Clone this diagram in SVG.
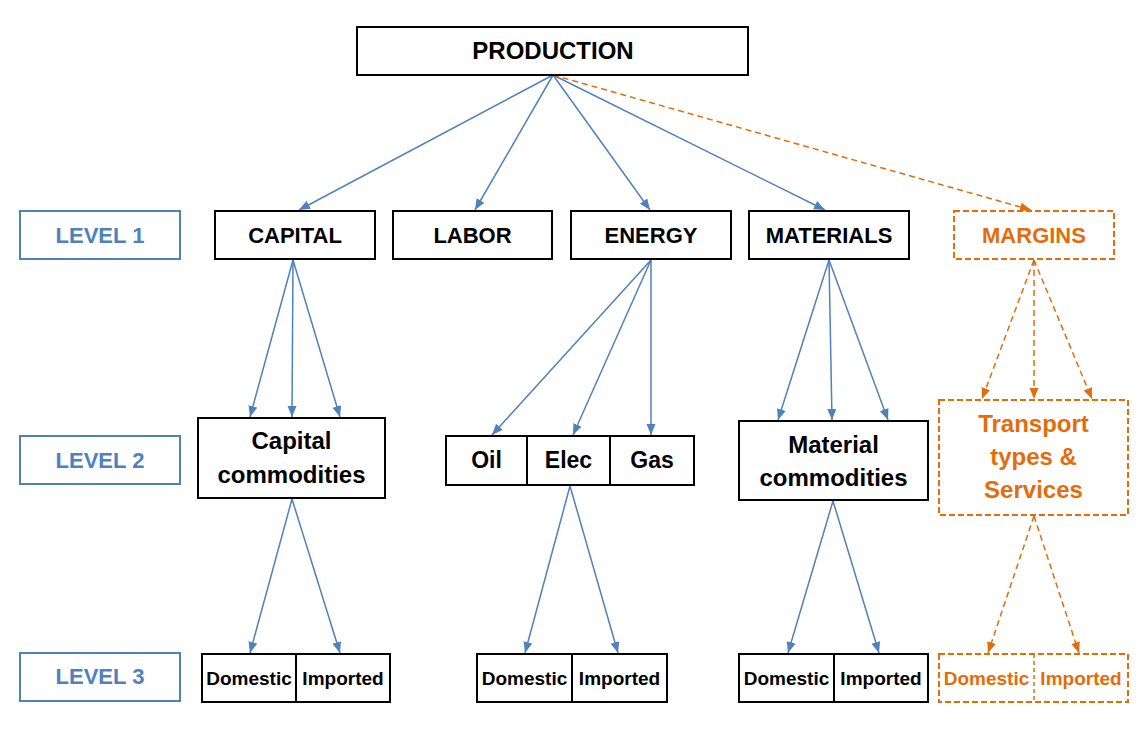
<svg xmlns="http://www.w3.org/2000/svg" width="1146" height="738" viewBox="0 0 1146 738">
<style>
  text { font-family: "Liberation Sans", Arial, sans-serif; font-weight: bold; text-anchor: middle; }
  .box { fill: #ffffff; stroke: #000000; stroke-width: 2; }
  .obox { fill: #ffffff; stroke: #E46C0A; stroke-width: 2; stroke-dasharray: 6 3; }
  .lvl { fill: #ffffff; stroke: #4F81BD; stroke-width: 2; }
  .div { stroke: #000000; stroke-width: 2; }
  .odiv { stroke: #E46C0A; stroke-width: 1.5; stroke-dasharray: 4 3; }
  .t { fill: #000000; }
  .ot { fill: #E46C0A; }
  .lt { fill: #4F81BD; font-size: 22px; }
  .blue { stroke: #4F81BD; stroke-width: 1.5; fill: none; marker-end: url(#ab); }
  .orange { stroke: #E46C0A; stroke-width: 1.5; fill: none; stroke-dasharray: 6 4; marker-end: url(#ao); }
</style>
<defs>
  <marker id="ab" markerUnits="userSpaceOnUse" markerWidth="12" markerHeight="10" refX="11" refY="4.5" orient="auto">
    <path d="M0,0 L11,4.5 L0,9 z" fill="#4F81BD"/>
  </marker>
  <marker id="ao" markerUnits="userSpaceOnUse" markerWidth="12" markerHeight="10" refX="11" refY="4.5" orient="auto">
    <path d="M0,0 L11,4.5 L0,9 z" fill="#E46C0A"/>
  </marker>
</defs>
<rect width="1146" height="738" fill="#ffffff"/>

<g id="connectors">
  <line class="blue" x1="553" y1="75" x2="299" y2="210"/>
  <line class="blue" x1="553" y1="75" x2="475" y2="210"/>
  <line class="blue" x1="553" y1="75" x2="650" y2="210"/>
  <line class="blue" x1="553" y1="75" x2="825" y2="210"/>
  <line class="orange" x1="553" y1="75" x2="1031" y2="210"/>

  <line class="blue" x1="293" y1="260" x2="250" y2="417"/>
  <line class="blue" x1="293" y1="260" x2="292" y2="417"/>
  <line class="blue" x1="293" y1="260" x2="340" y2="417"/>

  <line class="blue" x1="292" y1="499" x2="250" y2="653"/>
  <line class="blue" x1="292" y1="499" x2="340" y2="653"/>

  <line class="blue" x1="651" y1="260" x2="492" y2="435"/>
  <line class="blue" x1="651" y1="260" x2="573" y2="435"/>
  <line class="blue" x1="651" y1="260" x2="651" y2="435"/>

  <line class="blue" x1="570" y1="486" x2="525" y2="653"/>
  <line class="blue" x1="570" y1="486" x2="618" y2="653"/>

  <line class="blue" x1="829" y1="260" x2="778" y2="420"/>
  <line class="blue" x1="829" y1="260" x2="832" y2="420"/>
  <line class="blue" x1="829" y1="260" x2="888" y2="420"/>

  <line class="blue" x1="833" y1="501" x2="788" y2="653"/>
  <line class="blue" x1="833" y1="501" x2="879" y2="653"/>

  <line class="orange" x1="1034" y1="260" x2="982" y2="399"/>
  <line class="orange" x1="1034" y1="260" x2="1034" y2="399"/>
  <line class="orange" x1="1034" y1="260" x2="1092" y2="399"/>

  <line class="orange" x1="1034" y1="516" x2="988" y2="653"/>
  <line class="orange" x1="1034" y1="516" x2="1079" y2="653"/>
</g>

<g id="production">
  <rect class="box" x="357" y="27" width="391" height="48"/>
  <text class="t" x="553" y="59" font-size="24">PRODUCTION</text>
</g>

<g id="level1">
  <rect class="lvl" x="20" y="211" width="160" height="48"/>
  <text class="lt" x="100" y="243">LEVEL 1</text>
</g>
<g id="level2">
  <rect class="lvl" x="20" y="436" width="160" height="48"/>
  <text class="lt" x="100" y="468">LEVEL 2</text>
</g>
<g id="level3">
  <rect class="lvl" x="20" y="653" width="160" height="48"/>
  <text class="lt" x="100" y="684">LEVEL 3</text>
</g>

<g id="capital">
  <rect class="box" x="215" y="211" width="160" height="48"/>
  <text class="t" x="295" y="243" font-size="22">CAPITAL</text>
</g>
<g id="labor">
  <rect class="box" x="393" y="211" width="159" height="48"/>
  <text class="t" x="472.5" y="243" font-size="22">LABOR</text>
</g>
<g id="energy">
  <rect class="box" x="571" y="211" width="160" height="48"/>
  <text class="t" x="651" y="243" font-size="22">ENERGY</text>
</g>
<g id="materials">
  <rect class="box" x="749" y="211" width="160" height="48"/>
  <text class="t" x="829" y="243" font-size="22">MATERIALS</text>
</g>
<g id="margins">
  <rect class="obox" x="954" y="211" width="160" height="48"/>
  <text class="ot" x="1034" y="243" font-size="22">MARGINS</text>
</g>

<g id="capital-commodities">
  <rect class="box" x="198" y="418" width="187" height="80"/>
  <text class="t" x="291.5" y="449" font-size="24">Capital</text>
  <text class="t" x="291.5" y="483" font-size="24">commodities</text>
</g>
<g id="energy-types">
  <rect class="box" x="446" y="436" width="248" height="49"/>
  <line class="div" x1="527" y1="436" x2="527" y2="485"/>
  <line class="div" x1="610" y1="436" x2="610" y2="485"/>
  <text class="t" x="486.5" y="468" font-size="23">Oil</text>
  <text class="t" x="568.5" y="468" font-size="23">Elec</text>
  <text class="t" x="652" y="468" font-size="23">Gas</text>
</g>
<g id="material-commodities">
  <rect class="box" x="739" y="421" width="189" height="79"/>
  <text class="t" x="833.5" y="453" font-size="24">Material</text>
  <text class="t" x="833.5" y="486" font-size="24">commodities</text>
</g>
<g id="transport">
  <rect class="obox" x="939" y="400" width="189" height="115"/>
  <text class="ot" x="1033.5" y="432" font-size="24">Transport</text>
  <text class="ot" x="1033.5" y="465" font-size="24">types &amp;</text>
  <text class="ot" x="1033.5" y="498" font-size="24">Services</text>
</g>

<g id="capital-origin">
  <rect class="box" x="202" y="654" width="188" height="48"/>
  <line class="div" x1="296" y1="654" x2="296" y2="702"/>
  <text class="t" x="249" y="685" font-size="19">Domestic</text>
  <text class="t" x="343" y="685" font-size="19">Imported</text>
</g>
<g id="energy-origin">
  <rect class="box" x="477" y="654" width="190" height="48"/>
  <line class="div" x1="572" y1="654" x2="572" y2="702"/>
  <text class="t" x="524.5" y="685" font-size="19">Domestic</text>
  <text class="t" x="619.5" y="685" font-size="19">Imported</text>
</g>
<g id="material-origin">
  <rect class="box" x="739" y="654" width="189" height="48"/>
  <line class="div" x1="834" y1="654" x2="834" y2="702"/>
  <text class="t" x="786.5" y="685" font-size="19">Domestic</text>
  <text class="t" x="881" y="685" font-size="19">Imported</text>
</g>
<g id="margins-origin">
  <rect class="obox" x="939" y="654" width="189" height="48"/>
  <line class="odiv" x1="1034" y1="654" x2="1034" y2="702"/>
  <text class="ot" x="986.5" y="685" font-size="19">Domestic</text>
  <text class="ot" x="1081" y="685" font-size="19">Imported</text>
</g>
</svg>
